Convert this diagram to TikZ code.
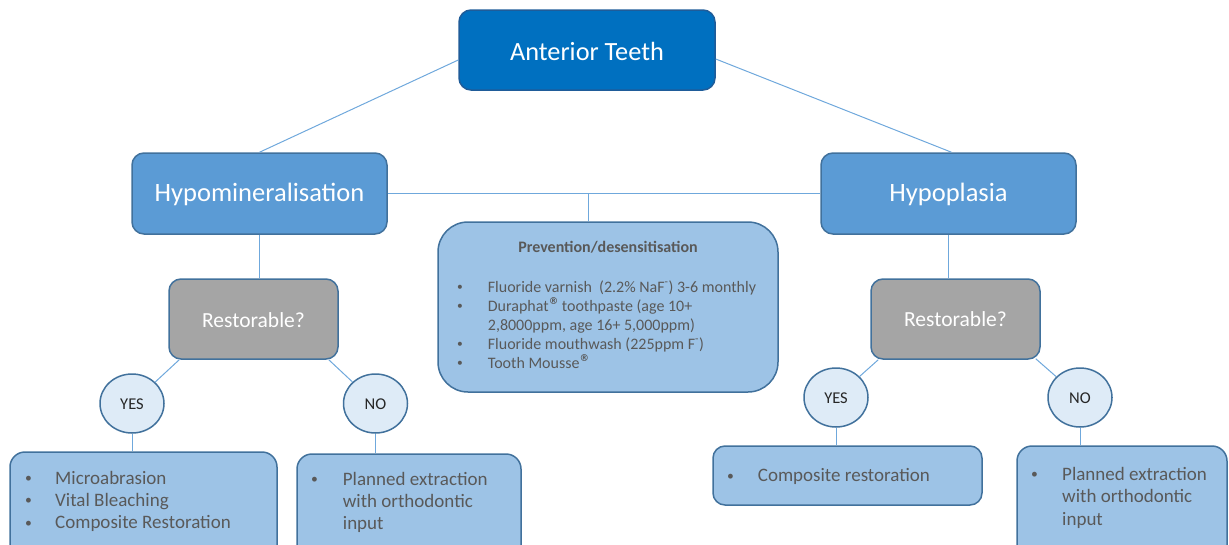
\documentclass[tikz,border=0pt]{standalone}
\usepackage{fontspec}
\usepackage{graphicx}
\setmainfont{Carlito}
\newfontfamily\regfont{DejaVu Sans}
\usetikzlibrary{calc,shapes.geometric}
\definecolor{antfill}{HTML}{0070C0}
\definecolor{antbord}{HTML}{1F5C99}
\definecolor{hypofill}{HTML}{5B9BD5}
\definecolor{lightfill}{HTML}{9DC3E6}
\definecolor{greyfill}{HTML}{A5A5A5}
\definecolor{circfill}{HTML}{DEEBF7}
\definecolor{bord}{HTML}{41719C}
\definecolor{connc}{HTML}{6FA8DC}
\definecolor{txtgrey}{HTML}{595959}
\newcommand{\mybul}{\raisebox{0.08em}{\scalebox{0.72}{\textbullet}}}
\newcommand{\myreg}{\smash{\raisebox{0.42em}{\regfont\bfseries\fontsize{9.5}{9.5}\selectfont ®}}}
\tikzset{
  box/.style={draw=bord, line width=1.5pt, rounded corners=12pt, inner sep=0pt, align=center},
  conn/.style={draw=connc, line width=1pt},
  circ/.style={ellipse, draw=bord, line width=1.5pt, fill=circfill, inner sep=0pt,
    minimum width=64pt, minimum height=59pt, text depth=0pt, text height=11.6pt,
    font=\fontsize{16.5}{19}\selectfont, text=black!85},
  listtext/.style={anchor=base west, inner sep=0pt, text=txtgrey, align=left}
}
\begin{document}
\begin{tikzpicture}[x=1pt,y=-1pt]
\useasboundingbox (0,0) rectangle (1229,544);
\clip (0,0) rectangle (1229,544);

% main boxes
\node[box, fill=antfill, draw=antbord, minimum width=256pt, minimum height=80pt,
  text=white, font=\fontsize{26.3}{30}\selectfont, text height=20pt, text depth=0pt]
  (ant) at (587,50) {Anterior Teeth};
\node[box, fill=hypofill, minimum width=255pt, minimum height=81pt,
  text=white, font=\fontsize{26.5}{30}\selectfont, text height=16.4pt, text depth=0pt]
  (hypo) at (259.5,193.5) {Hypomineralisation};
\node[box, fill=hypofill, minimum width=255pt, minimum height=81pt,
  text=white, font=\fontsize{26.5}{30}\selectfont, text height=16.4pt, text depth=0pt]
  (hypl) at (948.5,193.5) {Hypoplasia};

% restorable boxes
\node[box, fill=greyfill, minimum width=169pt, minimum height=80pt,
  text=white, font=\fontsize{21.5}{25}\selectfont, text height=16pt, text depth=0pt]
  (restL) at (253.5,319) {Restorable?};
\node[box, fill=greyfill, minimum width=169pt, minimum height=80pt,
  text=white, font=\fontsize{21.5}{25}\selectfont, text height=14pt, text depth=0pt]
  (restR) at (955.5,319) {Restorable?};

% prevention box
\node[box, fill=lightfill, rounded corners=30pt, minimum width=340pt, minimum height=170pt]
  (prev) at (608,307) {};
\node[anchor=base, inner sep=0pt, text=txtgrey, font=\bfseries\fontsize{16}{19}\selectfont]
  (prevT) at (608,252) {Prevention/desensitisation};
\node[listtext, font=\fontsize{16}{19}\selectfont] (prevL) at (457,292)
  {\begin{tabular}[t]{@{}p{30.7pt}@{}l@{}}
  \mybul & Fluoride varnish\ \ (2.2\% NaF\textsuperscript{-}) 3-6 monthly\\
  \mybul & Duraphat\myreg\ toothpaste (age 10+\\
   & 2,8000ppm, age 16+ 5,000ppm)\\
  \mybul & Fluoride mouthwash (225ppm F\textsuperscript{-})\\
  \mybul & Tooth Mousse\myreg
  \end{tabular}};

% yes / no circles
\node[circ] (yesL) at (132,403.5) {YES};
\node[circ] (noL) at (375.5,403.5) {NO};
\node[circ] (yesR) at (836,397.5) {YES};
\node[circ] (noR) at (1080,397.5) {NO};

% bottom boxes
\node[box, fill=lightfill, rounded corners=15pt, minimum width=267pt, minimum height=108pt]
  (boxL) at (143.5,506) {};
\node[listtext, font=\fontsize{19}{22.3}\selectfont] (boxLT) at (25,484)
  {\begin{tabular}[t]{@{}p{30pt}@{}l@{}}
  \mybul & Microabrasion\\
  \mybul & Vital Bleaching\\
  \mybul & Composite Restoration
  \end{tabular}};

\node[box, fill=lightfill, rounded corners=15pt, minimum width=224pt, minimum height=106pt]
  (boxML) at (409,507) {};
\node[listtext, font=\fontsize{19}{22.3}\selectfont] (boxMLT) at (311,485)
  {\begin{tabular}[t]{@{}p{31.7pt}@{}l@{}}
  \mybul & Planned extraction\\
   & with orthodontic\\
   & input
  \end{tabular}};

\node[box, fill=lightfill, rounded corners=12pt, minimum width=269pt, minimum height=59pt]
  (boxC) at (847.5,475.5) {};
\node[listtext, font=\fontsize{19}{22.3}\selectfont] (boxCT) at (727,481.7)
  {\begin{tabular}[t]{@{}p{30.7pt}@{}l@{}}
  \mybul & Composite restoration
  \end{tabular}};

\node[box, fill=lightfill, rounded corners=15pt, minimum width=210pt, minimum height=114pt]
  (boxR) at (1122,503) {};
\node[listtext, font=\fontsize{19}{22.5}\selectfont] (boxRT) at (1031,480)
  {\begin{tabular}[t]{@{}p{31pt}@{}l@{}}
  \mybul & Planned extraction\\
   & with orthodontic\\
   & input
  \end{tabular}};

% connectors
\draw[conn] ($(ant.west)+(0,10)$) -- (hypo.north);
\draw[conn] ($(ant.east)+(0,9)$) -- ($(hypl.north)+(3,0)$);
\draw[conn] (hypo.east) -- (hypl.west);
\coordinate (pj) at ($(prev.north)+(-20,0)$);
\draw[conn] (pj) -- (pj |- hypo.east);
\draw[conn] (hypo.south) -- (hypo.south |- restL.north);
\draw[conn] (hypl.south) -- (hypl.south |- restR.north);
\draw[conn] ($(restL.south west)+(11,0)$) -- (yesL);
\draw[conn] ($(restL.south east)+(-10,0)$) -- (noL);
\draw[conn] ($(restR.south west)+(8,0)$) -- (yesR);
\draw[conn] ($(restR.south east)+(-5,-1)$) -- (noR);
\draw[conn] (yesL.south) -- (yesL.south |- boxL.north);
\draw[conn] (noL.south) -- (noL.south |- boxML.north);
\draw[conn] (yesR.south) -- (yesR.south |- boxC.north);
\draw[conn] (noR.south) -- (noR.south |- boxR.north);
\end{tikzpicture}
\end{document}
